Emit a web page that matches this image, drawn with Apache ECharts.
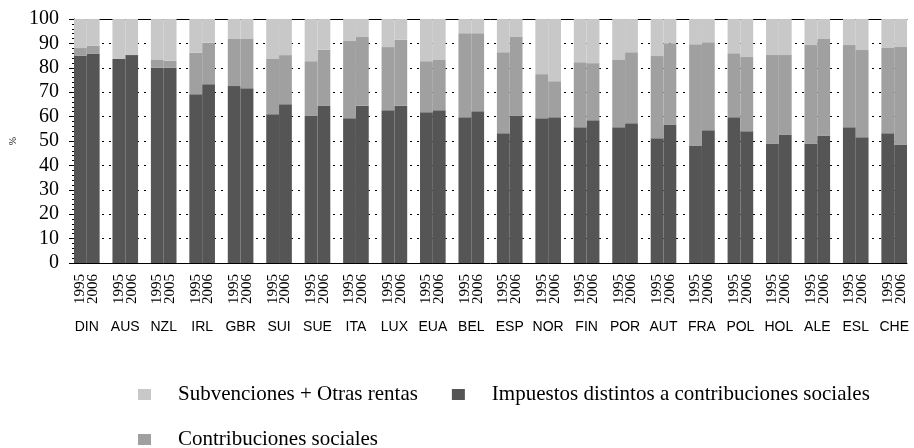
<!DOCTYPE html>
<html>
<head>
<meta charset="utf-8">
<script src="https://cdn.jsdelivr.net/npm/echarts@6/dist/echarts.min.js"></script>
<style>
  html, body { margin: 0; padding: 0; background: #ffffff; }
  #chart { width: 914px; height: 448px; }
</style>
</head>
<body>
<div id="chart"></div>
<script>
  // paises y años
  var countries = ['DIN', 'AUS', 'NZL', 'IRL', 'GBR', 'SUI', 'SUE', 'ITA', 'LUX', 'EUA', 'BEL',
    'ESP', 'NOR', 'FIN', 'POR', 'AUT', 'FRA', 'POL', 'HOL', 'ALE', 'ESL', 'CHE'];
  var yearsA = ['1995', '1995', '1995', '1995', '1995', '1995', '1995', '1995', '1995', '1995', '1995',
    '1995', '1995', '1995', '1995', '1995', '1995', '1995', '1995', '1995', '1995', '1995'];
  var yearsB = ['2006', '2006', '2005', '2006', '2006', '2006', '2006', '2006', '2006', '2006', '2006',
    '2006', '2006', '2006', '2006', '2006', '2006', '2006', '2006', '2006', '2006', '2006'];

  // % de ingresos, primer año
  var impuestosA = [84.9, 83.6, 80.0, 69.2, 72.5, 61.0, 60.5, 59.3, 62.6, 61.8, 59.7,
    53.2, 59.3, 55.6, 55.6, 51.1, 48.2, 59.7, 49.0, 49.0, 55.6, 53.2];
  var contribA = [3.2, 0, 3.2, 17.0, 19.3, 22.6, 22.2, 31.7, 25.9, 20.9, 34.5,
    33.2, 18.1, 26.7, 27.6, 33.7, 41.5, 26.3, 36.2, 40.3, 33.7, 34.9];
  var subvA = [11.9, 16.4, 16.8, 13.8, 8.2, 16.4, 17.3, 9.0, 11.5, 17.3, 5.8,
    13.6, 22.6, 17.7, 16.8, 15.2, 10.3, 14.0, 14.8, 10.7, 10.7, 11.9];

  // % de ingresos, segundo año
  var impuestosB = [85.9, 85.2, 80.0, 73.3, 71.6, 65.1, 64.4, 64.4, 64.4, 62.6, 62.2,
    60.5, 59.7, 58.5, 57.3, 56.8, 54.4, 54.0, 52.7, 52.3, 51.5, 48.6];
  var contribB = [3.1, 0, 2.9, 17.0, 20.2, 20.1, 23.0, 28.2, 27.1, 20.6, 32.0,
    32.1, 14.8, 23.4, 29.1, 33.3, 36.1, 30.4, 32.5, 39.5, 35.8, 39.9];
  var subvB = [11.0, 14.8, 17.1, 9.7, 8.2, 14.8, 12.6, 7.4, 8.5, 16.8, 5.8,
    7.4, 25.5, 18.1, 13.6, 9.9, 9.5, 15.6, 14.8, 8.2, 12.7, 11.5];

  var yTicks = [0, 10, 20, 30, 40, 50, 60, 70, 80, 90, 100];

  var NAME_SUB = 'Subvenciones + Otras rentas';
  var NAME_IMP = 'Impuestos distintos a contribuciones sociales';
  var NAME_CON = 'Contribuciones sociales';

  // cada pais: barra año A, barra año B, hueco (menos el último)
  var slots = [];
  function spread(a, b) {
    var out = [];
    for (var i = 0; i < countries.length; i++) {
      out.push(a[i], b[i]);
      if (i < countries.length - 1) out.push('-');
    }
    return out;
  }
  for (var i = 0; i < countries.length; i++) {
    slots.push(yearsA[i], yearsB[i]);
    if (i < countries.length - 1) slots.push('');
  }

  var serif = 'Liberation Serif';
  var chart = echarts.init(document.getElementById('chart'));

  chart.setOption({
    animation: false,
    backgroundColor: '#ffffff',
    grid: { left: 70, right: 7, top: 19, bottom: 185 },
    legend: [{
      data: [NAME_SUB, NAME_IMP],
      left: 133, top: 379,
      icon: 'rect', itemWidth: 13, itemHeight: 11, itemGap: 34,
      textStyle: { fontFamily: serif, fontSize: 21, color: '#000', padding: [0, 0, 0, 22] }
    }, {
      data: [NAME_CON],
      left: 133, top: 424,
      icon: 'rect', itemWidth: 13, itemHeight: 11,
      textStyle: { fontFamily: serif, fontSize: 21, color: '#000', padding: [0, 0, 0, 22] }
    }],
    xAxis: [{
      type: 'category',
      data: slots,
      boundaryGap: true,
      axisLine: { lineStyle: { color: '#000', width: 1 } },
      axisTick: { interval: 0, length: 9, lineStyle: { color: '#000' } },
      axisLabel: { interval: 0, rotate: 90, margin: 11, fontFamily: serif, fontSize: 15, color: '#000' }
    }, {
      // nombres de paises centrados bajo cada par de barras
      type: 'value',
      min: 0, max: slots.length, interval: 1,
      position: 'bottom', offset: 53,
      axisLine: { show: false }, axisTick: { show: false }, splitLine: { show: false },
      axisLabel: {
        margin: 4, fontFamily: 'Liberation Sans', fontSize: 14, color: '#000',
        formatter: function (v) { return v % 3 === 1 ? countries[(v - 1) / 3] : ''; }
      }
    }, {
      type: 'category', position: 'top', data: slots,
      axisLine: { lineStyle: { color: '#000', width: 1 } },
      axisTick: { show: false }, axisLabel: { show: false }
    }],
    yAxis: {
      type: 'value',
      min: 0, max: 100, interval: 10,
      name: '%', nameLocation: 'middle', nameRotate: 90, nameGap: 56,
      nameTextStyle: { fontFamily: serif, fontSize: 10, color: '#000' },
      axisLine: { show: true, lineStyle: { color: '#000' } },
      axisTick: { show: true, length: 5, lineStyle: { color: '#000' } },
      minorTick: { show: true, splitNumber: 5, length: 2, lineStyle: { color: '#000' } },
      axisLabel: {
        margin: 15, fontFamily: serif, fontSize: 20, color: '#000',
        formatter: function (v) { return yTicks.indexOf(v) >= 0 ? String(v) : ''; }
      },
      splitLine: { lineStyle: { color: '#000', type: [2, 5], width: 1 } }
    },
    series: [{
      name: NAME_IMP, type: 'bar', stack: 'total', barCategoryGap: 0,
      itemStyle: { color: '#555555' },
      data: spread(impuestosA, impuestosB)
    }, {
      name: NAME_CON, type: 'bar', stack: 'total', barCategoryGap: 0,
      itemStyle: { color: '#a0a0a0' },
      data: spread(contribA, contribB)
    }, {
      name: NAME_SUB, type: 'bar', stack: 'total', barCategoryGap: 0,
      itemStyle: { color: '#c8c8c8' },
      data: spread(subvA, subvB)
    }]
  });
</script>
</body>
</html>
